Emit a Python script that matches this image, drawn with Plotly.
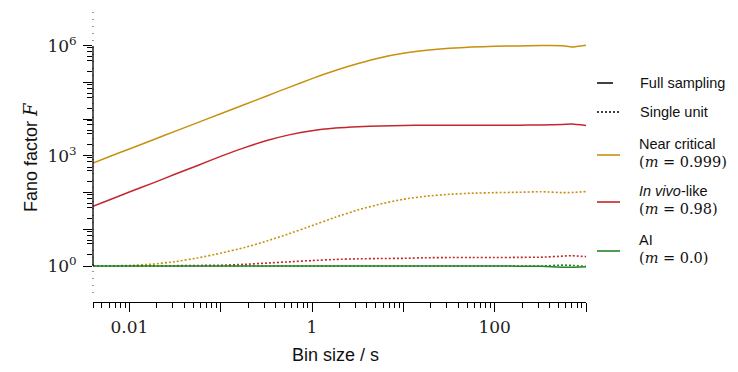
import numpy as np
import plotly.graph_objects as go

# ---------------- data ----------------
bin_size = [0.004, 0.006, 0.01, 0.018, 0.032, 0.056, 0.1, 0.18, 0.32, 0.56,
            1, 1.8, 3.2, 5.6, 10, 18, 32, 56, 100, 180, 320, 560, 700, 1000]

near_critical_full = [646, 953, 1556, 2735, 4753, 8128, 14190, 24950, 43350, 74130,
                      128800, 213800, 331100, 478600, 631000, 758600, 861000, 933300,
                      977200, 1000000, 1023000, 1012000, 933000, 1047000]
near_critical_single = [1.0, 1.009, 1.035, 1.122, 1.318, 1.66, 2.239, 3.162, 4.786, 7.586,
                        12.59, 21.38, 33.88, 48.98, 66.07, 80.35, 90.16, 96.6,
                        100, 102.3, 105.9, 100, 101, 107]
invivo_full = [42.7, 63.1, 104, 182, 321, 550, 977, 1660, 2630, 3760,
               4900, 5750, 6310, 6610, 6760, 6920, 6920, 6840,
               6840, 6920, 7000, 7240, 7410, 6760]
invivo_single = [1.0, 1.0, 1.005, 1.01, 1.02, 1.035, 1.05, 1.11, 1.20, 1.30,
                 1.41, 1.51, 1.57, 1.60, 1.62, 1.68, 1.70, 1.70,
                 1.70, 1.72, 1.74, 1.86, 1.91, 1.80]
ai_full = [1.0, 1.0, 1.0, 1.0, 1.0, 1.0, 1.0, 1.0, 1.0, 1.0,
           1.0, 1.0, 1.0, 1.0, 1.0, 1.0, 1.0, 1.0,
           1.0, 0.99, 0.98, 0.93, 0.92, 0.95]
ai_single = [1.0, 1.0, 1.0, 1.0, 1.0, 1.0, 1.0, 1.0, 1.0, 1.0,
             1.0, 1.0, 1.0, 1.0, 1.0, 1.0, 1.0, 1.0,
             1.0, 1.0, 1.0, 1.06, 1.04, 0.98]

x_labeled_ticks = [0.01, 1, 100]
x_labels = ["0.01", "1", "100"]
x_unlabeled_ticks = [0.1, 10, 1000]
y_labeled_ticks = [1, 1e3, 1e6]
y_labels = ["10<sup>0</sup>", "10<sup>3</sup>", "10<sup>6</sup>"]
y_unlabeled_ticks = [10, 100, 1e4, 1e5]

series_m = ["0.999", "0.98", "0.0"]
titles = ["Near critical", "<i>In vivo</i>-like", "AI"]
colors = ["#c8900f", "#c4262e", "#258525"]

# ---------------- figure ----------------
W, H = 738, 372
X0, X1 = 93, 586       # x-axis pixel extent
YT, YB = 10, 293       # plot area top/bottom (pixels)
XAX = 302              # x-axis spine pixel row
XRANGE = [np.log10(0.004), 3]
YRANGE = [-0.736, 6.98]

fig = go.Figure()
full = [near_critical_full, invivo_full, ai_full]
single = [near_critical_single, invivo_single, ai_single]
for i in range(3):
    fig.add_trace(go.Scatter(x=bin_size, y=full[i], mode="lines",
                             line=dict(color=colors[i], width=1.5, shape="spline", smoothing=0.5),
                             showlegend=False, hoverinfo="skip"))
    fig.add_trace(go.Scatter(x=bin_size, y=single[i], mode="lines",
                             line=dict(color=colors[i], width=1.6, dash="2px,2px",
                                       shape="spline", smoothing=0.5),
                             showlegend=False, hoverinfo="skip"))
# empty trace so the secondary (unlabelled-tick) axes get drawn
fig.add_trace(go.Scatter(x=[], y=[], xaxis="x2", yaxis="y2", showlegend=False,
                         hoverinfo="skip"))

x_minor = [m * 10.0 ** d for d in range(-3, 3) for m in range(2, 10)
           if 0.004 <= m * 10.0 ** d <= 1000]
y_minor = [m * 10.0 ** d for d in range(0, 6) for m in (2, 4, 5, 7, 9)]

tickfont = dict(family="DejaVu Serif", size=17, color="#222")
xdom = [X0 / W, X1 / W]
ydom = [(H - YB) / H, (H - YT) / H]
xpos = (H - XAX) / H

fig.update_layout(
    width=W, height=H,
    margin=dict(l=0, r=0, t=0, b=0),
    paper_bgcolor="white", plot_bgcolor="white",
    xaxis=dict(
        type="log", range=XRANGE, domain=xdom, anchor="free", position=xpos,
        showgrid=False, zeroline=False,
        showline=True, linecolor="black", linewidth=1.3,
        ticks="outside", ticklen=9, tickwidth=1.3, tickcolor="black",
        tickmode="array", tickvals=x_labeled_ticks, ticktext=x_labels,
        tickfont=tickfont,
        minor=dict(tickmode="array", tickvals=x_minor, ticks="outside",
                   ticklen=5, tickwidth=1.1, tickcolor="black", showgrid=False),
    ),
    xaxis2=dict(
        type="log", range=XRANGE, domain=xdom, anchor="free", position=xpos,
        overlaying="x", showgrid=False, zeroline=False, showline=False,
        ticks="outside", ticklen=9, tickwidth=1.3, tickcolor="black",
        tickmode="array", tickvals=x_unlabeled_ticks, showticklabels=False,
    ),
    yaxis=dict(
        type="log", range=YRANGE, domain=ydom,
        showgrid=False, zeroline=False, showline=False,
        ticks="outside", ticklen=9, tickwidth=1.3, tickcolor="black",
        tickmode="array", tickvals=y_labeled_ticks, ticktext=y_labels,
        tickfont=tickfont, ticklabelstandoff=3,
        minor=dict(tickmode="array", tickvals=y_minor, ticks="outside",
                   ticklen=5, tickwidth=1.1, tickcolor="black", showgrid=False),
    ),
    yaxis2=dict(
        type="log", range=YRANGE, domain=ydom, anchor="x2", overlaying="y", side="left",
        showgrid=False, zeroline=False, showline=False,
        ticks="outside", ticklen=9, tickwidth=1.3, tickcolor="black",
        tickmode="array", tickvals=y_unlabeled_ticks, showticklabels=False,
    ),
)

def yfrac(logv):
    return (logv - YRANGE[0]) / (YRANGE[1] - YRANGE[0])

# dotted full-height marker line and trimmed y-axis spine (10^0 .. 10^6)
fig.add_shape(type="line", xref="x domain", yref="y domain", x0=0, x1=0, y0=0, y1=1,
              line=dict(color="#333", width=1, dash="1px,6px"))
fig.add_shape(type="line", xref="x domain", yref="y domain", x0=0, x1=0,
              y0=yfrac(0), y1=yfrac(6), line=dict(color="black", width=1.3))

def px(x):
    return x / W

def py(y):
    return 1 - y / H

# axis titles
fig.add_annotation(xref="paper", yref="paper", x=px(30), y=py(157),
                   text='Fano factor <span style="font-family:DejaVu Serif"><i>F</i></span>',
                   textangle=-90, showarrow=False, xanchor="center", yanchor="middle",
                   font=dict(family="Liberation Sans", size=18, color="#111"))
fig.add_annotation(xref="paper", yref="paper", x=px(335), y=py(355),
                   text="Bin size / s", showarrow=False, xanchor="center", yanchor="middle",
                   font=dict(family="Liberation Sans", size=18, color="#111"))

# legend
lx0, lx1, tx = 597, 620, 638
legfont = dict(family="Liberation Sans", size=14.5, color="#111")
mathfont = dict(family="DejaVu Serif", size=14.5, color="#111")

fig.add_shape(type="line", xref="paper", yref="paper", x0=px(lx0), x1=px(613),
              y0=py(83), y1=py(83), line=dict(color="black", width=1.5))
fig.add_annotation(xref="paper", yref="paper", x=px(tx), y=py(83), text="Full sampling",
                   showarrow=False, xanchor="left", yanchor="middle", font=legfont)
fig.add_shape(type="line", xref="paper", yref="paper", x0=px(lx0), x1=px(lx1),
              y0=py(112), y1=py(112), line=dict(color="black", width=1.3, dash="2px,2px"))
fig.add_annotation(xref="paper", yref="paper", x=px(tx), y=py(112), text="Single unit",
                   showarrow=False, xanchor="left", yanchor="middle", font=legfont)

leg_line_y = [155, 202, 251]
leg_title_y = [144, 191, 240]
leg_m_y = [162, 209, 258]
for i in range(3):
    fig.add_shape(type="line", xref="paper", yref="paper", x0=px(lx0), x1=px(lx1),
                  y0=py(leg_line_y[i]), y1=py(leg_line_y[i]),
                  line=dict(color=colors[i], width=1.6))
    fig.add_annotation(xref="paper", yref="paper", x=px(tx), y=py(leg_title_y[i]),
                       text=titles[i], showarrow=False, xanchor="left", yanchor="middle",
                       font=legfont, borderpad=0)
    fig.add_annotation(xref="paper", yref="paper", x=px(tx), y=py(leg_m_y[i]),
                       text="(<i>m</i> = " + series_m[i] + ")", showarrow=False,
                       xanchor="left", yanchor="middle", font=mathfont, borderpad=0)

fig.write_html("out.html", post_script="document.body.style.margin='0';",
               config={"displayModeBar": False})
